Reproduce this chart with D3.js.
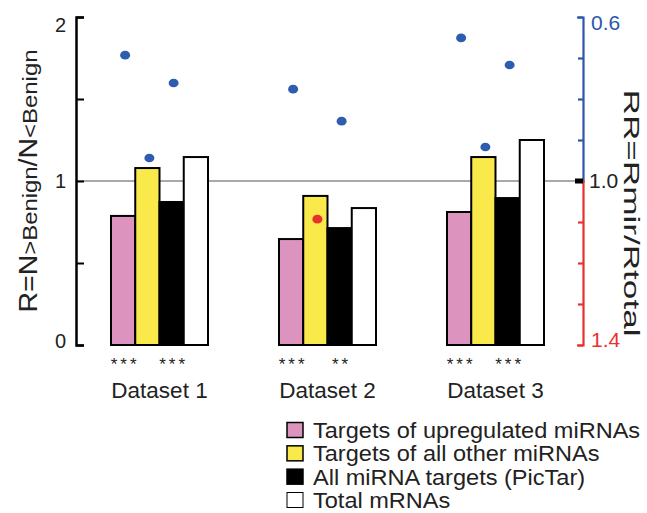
<!DOCTYPE html>
<html>
<head>
<meta charset="utf-8">
<script src="https://cdn.jsdelivr.net/npm/d3@7"></script>
<style>
  body { margin: 0; background: #fff; }
  text { font-family: "Liberation Sans", Arial, sans-serif; }
</style>
</head>
<body>
<div id="chart"></div>
<script>
// data
var datasets = ["Dataset 1", "Dataset 2", "Dataset 3"];
var seriesNames = ["Targets of upregulated miRNAs", "Targets of all other miRNAs", "All miRNA targets (PicTar)", "Total mRNAs"];
var upregulated = [0.787, 0.646, 0.811];
var otherMirna = [1.079, 0.909, 1.146];
var allTargets = [0.872, 0.713, 0.896];
var totalMrna = [1.146, 0.835, 1.25];
// RR = Rmir/Rtotal (right axis, dots)
var rrUp = [0.693, 0.776, 0.651];
var rrOther = [0.944, 1.093, 0.917];
var rrAll = [0.761, 0.854, 0.717];
// significance marks under pink and black bars
var starsUp = ["***", "***", "***"];
var starsAll = ["***", "**", "***"];
var leftTicks = [0, 0.5, 1, 1.5, 2];
var rightTicks = [0.6, 0.7, 0.8, 0.9, 1.0, 1.1, 1.2, 1.3, 1.4];

var colors = ["#dc94bf", "#f9e94b", "#000000", "#ffffff"];
var blue = "#2c57aa", red = "#e8312f", dotBlue = "#2e5cb0";

var width = 647, height = 513;
var svg = d3.select("#chart").append("svg")
  .attr("width", width)
  .attr("height", height);

var values = [upregulated, otherMirna, allTargets, totalMrna];
var rrs = [rrUp, rrOther, rrAll];
var keys = d3.range(seriesNames.length);

// scales
var x0 = d3.scaleBand().domain(datasets).range([111, 544]).paddingInner(0.4226).paddingOuter(0);
var x1 = d3.scaleBand().domain(keys).range([0, x0.bandwidth()]);
var y = d3.scaleLinear().domain([0, 2]).range([345, 17]);
var yBlue = d3.scaleLinear().domain([0.6, 1.0]).range([17, 181]);
var yRed = d3.scaleLinear().domain([1.0, 1.4]).range([181, 345]);
var yR = d3.scaleLinear().domain([0.6, 1.4]).range([17, 345]);

// reference line at R = 1
svg.append("line")
  .attr("x1", 76).attr("x2", 576)
  .attr("y1", y(1)).attr("y2", y(1))
  .attr("stroke", "#555").attr("stroke-width", 1.2);

// bars
var groups = svg.selectAll(".grp")
  .data(datasets).enter()
  .append("g")
  .attr("class", "grp")
  .attr("transform", function(d) { return "translate(" + x0(d) + ",0)"; });

groups.selectAll("rect")
  .data(function(d, i) { return keys.map(function(k) { return {k: k, v: values[k][i]}; }); })
  .enter().append("rect")
  .attr("x", function(d) { return x1(d.k); })
  .attr("width", x1.bandwidth())
  .attr("y", function(d) { return y(d.v); })
  .attr("height", function(d) { return y(0) - y(d.v); })
  .attr("fill", function(d) { return colors[d.k]; })
  .attr("stroke", "#000")
  .attr("stroke-width", 2);

// dots on the RR axis
groups.selectAll("ellipse")
  .data(function(d, i) { return [0, 1, 2].map(function(k) { return {k: k, v: rrs[k][i]}; }); })
  .enter().append("ellipse")
  .attr("cx", function(d) { return x1(d.k) + x1.bandwidth() / 2 + 2; })
  .attr("cy", function(d) { return yR(d.v); })
  .attr("rx", 5).attr("ry", 4.3)
  .attr("fill", function(d) { return d.v > 1 ? red : dotBlue; });

// stars
groups.append("text")
  .attr("x", x1(0) + x1.bandwidth() / 2 + 2)
  .attr("y", 370)
  .attr("text-anchor", "middle")
  .style("font-size", "17px")
  .style("letter-spacing", "3px")
  .attr("fill", "#222")
  .text(function(d, i) { return starsUp[i]; });
groups.append("text")
  .attr("x", x1(2) + x1.bandwidth() / 2 + 2)
  .attr("y", 370)
  .attr("text-anchor", "middle")
  .style("font-size", "17px")
  .style("letter-spacing", "3px")
  .attr("fill", "#222")
  .text(function(d, i) { return starsAll[i]; });

// dataset labels
groups.append("text")
  .attr("x", x0.bandwidth() / 2)
  .attr("y", 398)
  .attr("text-anchor", "middle")
  .style("font-size", "22.5px")
  .attr("fill", "#222")
  .text(function(d) { return d; });

// left axis
var leftAxis = svg.append("g")
  .attr("transform", "translate(76,0)")
  .call(d3.axisLeft(y).tickValues(leftTicks).tickSizeInner(-8).tickSizeOuter(-8).tickPadding(10)
    .tickFormat(function(d) { return d % 1 === 0 ? d : ""; }));
leftAxis.select(".domain").attr("stroke-width", 2.5);
leftAxis.selectAll(".tick line").attr("stroke-width", 2);
leftAxis.selectAll(".tick text")
  .style("font-size", "20px")
  .attr("fill", "#222")
  .attr("dy", function(d) { return d === 2 ? "0.72em" : d === 0 ? "0.12em" : "0.32em"; });

// right axis, blue upper half
var rAxisB = svg.append("g")
  .attr("transform", "translate(583,0)")
  .call(d3.axisRight(yBlue).tickValues(rightTicks.filter(function(d) { return d < 1; }))
    .tickSizeInner(-5).tickSizeOuter(-6).tickPadding(8)
    .tickFormat(function(d) { return d === 0.6 ? d3.format(".1f")(d) : ""; }));
rAxisB.selectAll("path, line").attr("stroke", blue).attr("stroke-width", 2.2);
rAxisB.selectAll(".tick text").attr("fill", blue).style("font-size", "21px").attr("dy", "0.6em");

// right axis, red lower half
var rAxisR = svg.append("g")
  .attr("transform", "translate(583,0)")
  .call(d3.axisRight(yRed).tickValues(rightTicks.filter(function(d) { return d > 1; }))
    .tickSizeInner(-5).tickSizeOuter(-6).tickPadding(8)
    .tickFormat(function(d) { return d === 1.4 ? d3.format(".1f")(d) : ""; }));
rAxisR.selectAll("path, line").attr("stroke", red).attr("stroke-width", 2.2);
rAxisR.selectAll(".tick text").attr("fill", red).style("font-size", "21px").attr("dy", "0.05em");

// 1.0 marker
svg.append("rect")
  .attr("x", 575).attr("width", 8)
  .attr("y", yR(1) - 2.5).attr("height", 5)
  .attr("fill", "#000");
svg.append("text")
  .attr("x", 589).attr("y", yR(1))
  .attr("dy", "0.35em")
  .style("font-size", "21px")
  .attr("fill", "#222")
  .text("1.0");

// axis titles
var lt = svg.append("text")
  .attr("transform", "translate(37,181) rotate(-90)")
  .attr("text-anchor", "middle")
  .attr("fill", "#222")
  .attr("textLength", 263)
  .attr("lengthAdjust", "spacingAndGlyphs");
lt.append("tspan").style("font-size", "25px").text("R=N");
lt.append("tspan").style("font-size", "21px").text(">Benign");
lt.append("tspan").style("font-size", "25px").text("/N");
lt.append("tspan").style("font-size", "21px").text("<Benign");

svg.append("text")
  .attr("transform", "translate(624,213) rotate(90)")
  .attr("text-anchor", "middle")
  .attr("fill", "#222")
  .style("font-size", "22px")
  .attr("textLength", 247)
  .attr("lengthAdjust", "spacingAndGlyphs")
  .text("RR=Rmir/Rtotal");

// legend
var ly = d3.scalePoint().domain(keys).range([430, 500]);
var legend = svg.selectAll(".leg")
  .data(keys).enter()
  .append("g")
  .attr("class", "leg")
  .attr("transform", function(d) { return "translate(287," + ly(d) + ")"; });
legend.append("rect")
  .attr("x", 0).attr("y", -7.5)
  .attr("width", 16).attr("height", 15)
  .attr("fill", function(d) { return colors[d]; })
  .attr("stroke", "#000")
  .attr("stroke-width", function(d) { return d === 3 ? 1 : 1.5; });
legend.append("text")
  .attr("x", 26).attr("y", 0)
  .attr("dy", "0.36em")
  .style("font-size", "22px")
  .attr("fill", "#222")
  .text(function(d) { return seriesNames[d]; })
  .each(function() {
    // the original lettering is a bit wider than Arial
    var len = this.getComputedTextLength();
    d3.select(this).attr("textLength", len * 1.07).attr("lengthAdjust", "spacingAndGlyphs");
  });
</script>
</body>
</html>
